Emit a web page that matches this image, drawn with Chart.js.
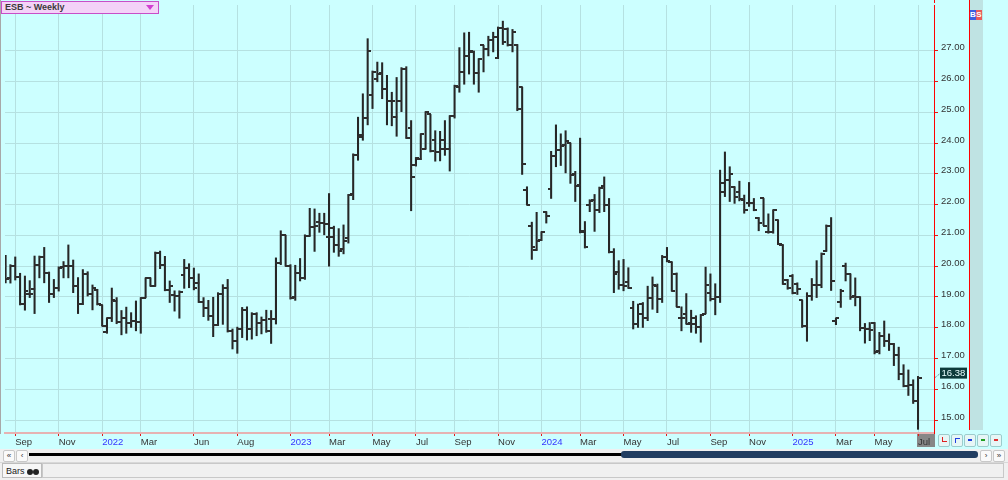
<!DOCTYPE html>
<html>
<head>
<meta charset="utf-8">
<title>ESB ~ Weekly</title>
<script src="https://cdn.jsdelivr.net/npm/chart.js@4.4.1/dist/chart.umd.min.js"></script>
<style>
    body { margin: 0; background: #f0f0f0; font-family: "Liberation Sans", Arial, sans-serif; }
    #wrap { position: relative; width: 1008px; height: 480px; overflow: hidden; background: #f0f0f0; }
    #plot { position: absolute; left: 0; top: 0; width: 1008px; height: 449px; background: #ccffff; }
    #plot canvas { position: absolute; left: 0; top: 0; }
    .abs { position: absolute; }
    #title { left: 1px; top: 1px; width: 153px; height: 11px; background: #f4d2f8; border: 1px solid #c84ec8;
        font-weight: bold; font-size: 9px; line-height: 11px; color: #3a3a3a; padding-left: 3px; box-sizing: content-box; }
    #title .tri { position: absolute; right: 4px; top: 3px; width: 0; height: 0;
        border-left: 4px solid transparent; border-right: 4px solid transparent; border-top: 5px solid #d040d0; }
    #bscol { left: 969px; top: 0; width: 13px; height: 430px; background: #bfe3e3; border-left: 1px solid #ff0000; }
    .bs { top: 10px; width: 6px; height: 10px; font-size: 8px; line-height: 10px; color: #fff; text-align: center; font-weight: bold; }
    .btn { top: 434px; width: 10px; height: 11px; background: #e6f6f6; border: 1px solid #9ccccc; border-radius: 2px; }
    .btn i { position: absolute; left: 3px; top: 4px; width: 4px; height: 2px; }
    #scroll { left: 0; top: 449px; width: 1008px; height: 12px; background: #f0f0f0; }
    .sbtn { top: 450px; width: 10px; height: 10px; background: #fafafa; border: 1px solid #c8c8c8; border-radius: 2px;
        font-size: 8px; line-height: 10px; text-align: center; color: #333; }
    #track { left: 29px; top: 453px; width: 594px; height: 3px; background: #000; }
    #thumb { left: 621px; top: 451px; width: 357px; height: 7px; background: #213d61; border-radius: 3px; }
    #status { left: 0; top: 462px; width: 1008px; height: 18px; background: #f0f0f0; border-top: 1px solid #d8d8d8; }
    #tab { left: 2px; top: 463px; width: 40px; height: 15px; background: #f7f7f7; border: 1px solid #bcbcbc;
        font-size: 9px; line-height: 15px; color: #222; padding-left: 3px; box-sizing: border-box; white-space: nowrap; }
    #tab b { display: inline-block; width: 6px; height: 6px; border-radius: 3px; background: #222; margin-left: 0; vertical-align: -1px; }
    #bar2 { left: 42px; top: 463px; width: 962px; height: 15px; background: #f0f0f0; border: 1px solid #c8c8c8; box-sizing: border-box; }
</style>
</head>
<body>
<div id="wrap">
    <div id="plot"><canvas id="chart" width="1008" height="449"></canvas></div>
    <div class="abs" style="left:0;top:0;width:1px;height:434px;background:#a8a8a8"></div>
    <div class="abs" style="left:934px;top:0;width:1px;height:3px;background:#ff0000"></div>
    <div class="abs" id="title">ESB ~ Weekly<span class="tri"></span></div>
    <div class="abs" id="bscol"></div>
    <div class="abs bs" style="left:970px;background:#3d5ee0">B</div>
    <div class="abs bs" style="left:976px;background:#e85a5a">S</div>

    <div class="abs btn" style="left:938px"><i style="border-left:1px solid #e02020;border-bottom:1px solid #e02020;background:none;top:2px;height:4px"></i></div>
    <div class="abs btn" style="left:951px"><i style="border-left:1px solid #2040e0;border-top:1px solid #2040e0;background:none;top:3px;height:4px"></i></div>
    <div class="abs btn" style="left:964px"><i style="background:#2040e0"></i></div>
    <div class="abs btn" style="left:977px"><i style="background:#20a020"></i></div>
    <div class="abs btn" style="left:990px"><i style="background:#e03030"></i></div>

    <div class="abs" id="scroll"></div>
    <div class="abs sbtn" style="left:3px">&laquo;</div>
    <div class="abs sbtn" style="left:16px">&lsaquo;</div>
    <div class="abs" id="track"></div>
    <div class="abs" id="thumb"></div>
    <div class="abs sbtn" style="left:980px">&rsaquo;</div>
    <div class="abs sbtn" style="left:993px">&raquo;</div>

    <div class="abs" id="status"></div>
    <div class="abs" id="tab">Bars <b></b><b></b></div>
    <div class="abs" id="bar2"></div>
</div>
<script>
// weekly OHLC, one entry per bar (Aug 2021 .. Jul 2025)
const opens = [
    20.0, 19.6, 20.0, 19.65, 18.78, 19.1, 19.27, 20.05, 20.31, 19.79,
    19.09, 19.28, 19.97, 20.0, 20.0, 19.35, 18.76, 19.75, 19.11, 19.22,
    18.74, 17.85, 18.31, 18.87, 18.2, 18.33, 18.15, 18.23, 18.2, 18.98,
    19.6, 19.35, 20.43, 20.05, 19.22, 19.06, 19.03, 19.71, 19.95, 19.62,
    19.46, 18.85, 18.63, 18.39, 18.1, 19.09, 19.28, 17.9, 17.56, 17.96,
    18.57, 17.96, 18.46, 18.14, 18.25, 18.28, 18.28, 20.11, 21.0, 20.0,
    18.99, 19.78, 19.62, 20.97, 21.26, 21.45, 21.4, 20.94, 21.24, 20.68,
    20.57, 20.9, 22.36, 23.6, 24.25, 24.8, 25.55, 26.08, 26.29, 25.76,
    25.38, 24.86, 25.36, 26.42, 24.5, 23.28, 23.48, 23.82, 24.93, 24.09,
    23.72, 24.09, 23.82, 24.87, 25.81, 26.31, 26.83, 26.96, 26.29, 27.17,
    27.06, 27.34, 26.77, 27.74, 27.71, 27.17, 27.17, 25.81, 22.47, 21.29,
    20.54, 20.86, 21.75, 22.5, 23.58, 23.76, 23.95, 24.0, 23.0, 22.65,
    21.13, 21.98, 22.15, 21.83, 22.62, 21.99, 20.46, 19.8, 19.4, 19.5,
    18.63, 18.12, 18.76, 18.33, 18.98, 19.35, 18.92, 20.31, 20.12, 19.76,
    18.33, 18.44, 18.14, 18.31, 18.01, 18.46, 19.14, 18.92, 19.0, 22.42,
    22.8, 22.58, 22.42, 22.15, 22.04, 22.04, 21.58, 22.2, 21.1, 21.1,
    21.5, 20.7, 19.54, 19.67, 19.41, 18.89, 18.06, 19.03, 19.39, 19.39,
    20.48, 21.32, 18.22, 18.85, 20.0, 19.73, 19.03, 19.0, 18.0, 17.95,
    18.17, 17.25, 17.74, 17.56, 17.47, 17.1, 16.5, 16.1, 16.13, 15.62,
]
const highs = [
    20.35, 20.05, 20.3, 19.77, 19.68, 19.53, 20.33, 20.33, 20.61, 19.81,
    19.57, 19.98, 20.15, 20.69, 20.2, 19.63, 19.89, 19.82, 19.39, 19.25,
    18.74, 18.32, 19.29, 18.98, 18.56, 18.67, 18.49, 18.87, 18.98, 19.62,
    19.62, 20.46, 20.49, 20.32, 19.52, 19.2, 19.2, 20.22, 20.08, 19.94,
    19.75, 18.98, 18.89, 18.99, 19.14, 19.4, 19.57, 17.96, 18.02, 18.66,
    18.68, 18.49, 18.49, 18.35, 18.57, 18.56, 20.27, 21.15, 21.0, 20.05,
    20.03, 20.25, 21.02, 21.88, 21.86, 21.72, 21.72, 22.36, 21.3, 21.22,
    21.34, 22.33, 23.65, 24.84, 25.6, 27.39, 26.34, 26.63, 26.61, 26.2,
    25.65, 26.13, 26.45, 26.48, 24.73, 23.53, 24.3, 25.02, 24.93, 24.4,
    24.38, 24.73, 24.89, 25.88, 27.1, 27.58, 27.6, 26.99, 26.74, 27.17,
    27.47, 27.6, 27.77, 27.96, 27.74, 27.69, 27.2, 25.81, 22.58, 21.43,
    21.75, 21.12, 21.77, 23.73, 24.59, 24.3, 24.4, 24.0, 23.08, 24.16,
    21.45, 22.16, 22.33, 22.57, 22.9, 22.2, 20.57, 20.18, 20.22, 19.95,
    18.86, 18.77, 18.82, 19.35, 19.65, 19.42, 20.35, 20.61, 20.14, 19.78,
    18.68, 19.11, 18.57, 18.39, 18.43, 19.97, 19.75, 19.43, 23.12, 23.71,
    23.23, 22.58, 22.76, 22.31, 22.72, 22.2, 21.58, 22.2, 21.7, 21.83,
    21.5, 20.7, 19.57, 19.73, 19.46, 18.89, 19.14, 19.6, 20.18, 20.43,
    21.34, 21.58, 18.31, 19.25, 20.1, 19.75, 19.62, 19.0, 18.14, 18.17,
    18.17, 17.85, 18.22, 17.8, 17.49, 17.37, 16.8, 16.63, 16.31, 16.42,
]
const lows = [
    19.46, 19.45, 19.55, 18.74, 18.57, 18.98, 18.46, 19.62, 19.46, 18.82,
    18.98, 19.19, 19.62, 19.62, 19.14, 18.46, 18.75, 19.03, 18.58, 18.74,
    18.06, 17.82, 18.2, 18.13, 17.77, 17.82, 18.01, 17.9, 17.82, 18.98,
    19.35, 19.35, 19.92, 19.2, 18.82, 18.54, 18.31, 19.28, 19.3, 19.23,
    18.82, 18.36, 18.24, 17.71, 18.07, 18.11, 17.86, 17.31, 17.17, 17.68,
    17.6, 17.63, 17.74, 17.8, 17.85, 17.49, 18.12, 20.05, 20.0, 18.93,
    18.89, 19.52, 19.57, 20.97, 20.48, 21.1, 21.02, 20.0, 20.45, 20.32,
    20.4, 20.75, 22.16, 23.44, 24.09, 24.59, 25.12, 25.99, 25.44, 24.59,
    24.56, 24.22, 25.02, 24.15, 21.8, 23.25, 23.46, 23.8, 23.71, 23.41,
    23.42, 23.6, 23.09, 24.81, 25.65, 25.91, 26.24, 25.91, 25.65, 26.31,
    26.83, 26.96, 26.74, 27.2, 27.15, 26.96, 25.05, 22.98, 21.99, 20.22,
    20.51, 20.83, 21.4, 22.2, 23.23, 23.27, 23.03, 22.69, 22.1, 21.08,
    20.59, 21.77, 21.13, 21.74, 21.77, 20.43, 19.14, 19.25, 19.2, 19.28,
    17.96, 18.01, 18.01, 18.23, 18.6, 18.49, 18.82, 20.14, 19.19, 18.68,
    17.9, 18.12, 17.85, 17.82, 17.53, 18.46, 18.87, 18.42, 18.82, 22.26,
    22.1, 22.04, 22.12, 21.72, 21.94, 21.8, 21.15, 21.32, 21.07, 21.07,
    20.7, 19.41, 19.25, 19.1, 19.08, 18.01, 17.56, 18.89, 18.98, 19.3,
    20.48, 19.21, 18.1, 18.66, 19.52, 18.92, 18.71, 17.9, 17.5, 17.58,
    17.15, 17.15, 17.39, 17.26, 16.77, 16.31, 16.08, 15.8, 15.54, 14.7,
]
const closes = [
    19.59, 20.0, 19.65, 18.76, 19.2, 19.1, 20.05, 20.31, 19.79, 19.09,
    19.28, 19.95, 20.0, 20.0, 19.35, 18.76, 19.75, 19.11, 19.3, 18.76,
    18.07, 18.31, 18.89, 18.2, 18.33, 18.15, 18.23, 18.2, 18.98, 19.6,
    19.35, 20.43, 20.05, 19.22, 19.35, 19.03, 19.17, 19.95, 19.62, 19.3,
    18.85, 18.63, 18.39, 18.1, 19.09, 19.28, 17.9, 17.56, 17.96, 18.57,
    17.96, 18.46, 18.14, 18.25, 17.9, 18.28, 20.11, 21.0, 20.0, 18.98,
    19.78, 19.62, 20.97, 21.26, 21.29, 21.4, 21.37, 20.94, 20.7, 20.48,
    20.81, 22.31, 23.6, 24.2, 24.8, 26.99, 26.31, 26.24, 25.75, 25.38,
    25.38, 25.36, 26.42, 24.16, 22.9, 23.5, 24.28, 25.0, 23.73, 23.7,
    23.8, 23.8, 24.87, 25.84, 26.31, 26.83, 26.99, 26.29, 26.72, 27.06,
    27.34, 27.45, 27.74, 27.28, 27.17, 27.6, 25.09, 23.33, 21.99, 20.61,
    20.83, 21.11, 21.64, 23.58, 23.76, 23.9, 24.05, 22.95, 22.62, 21.11,
    20.61, 22.13, 21.83, 22.53, 21.99, 20.46, 19.75, 19.4, 19.35, 19.3,
    18.12, 18.44, 18.33, 18.98, 19.4, 18.95, 20.31, 20.18, 19.2, 18.69,
    18.33, 18.12, 18.12, 18.01, 18.42, 19.39, 18.92, 19.0, 22.69, 22.8,
    23.01, 22.26, 22.18, 21.83, 22.04, 21.83, 21.4, 21.32, 21.1, 21.82,
    20.71, 19.42, 19.3, 19.14, 19.25, 18.06, 19.03, 19.39, 19.39, 20.41,
    21.32, 19.52, 18.31, 19.19, 19.73, 19.0, 19.0, 18.0, 17.95, 17.92,
    17.2, 17.74, 17.56, 17.47, 17.1, 16.5, 16.1, 16.13, 15.62, 16.38,
]

// bottom axis: bar index where each month / year label sits
const tickIndex = [2, 11, 20, 28, 39, 48, 59, 67, 76, 85, 93, 102, 111, 119, 128, 137, 146, 154, 163, 172, 180, 189]
const tickLabels = ["Sep", "Nov", "2022", "Mar", "Jun", "Aug", "2023", "Mar", "May", "Jul", "Sep", "Nov",
    "2024", "Mar", "May", "Jul", "Sep", "Nov", "2025", "Mar", "May", "Jul"]
const priceTicks = [15, 16, 17, 18, 19, 20, 21, 22, 23, 24, 25, 26, 27]

const lastIdx = closes.length - 1
const gridColor = "#b5e1e1"

Chart.defaults.font.family = "'Liberation Sans', Arial, sans-serif"

// open / close ticks as tiny point images
function tickMark(side) {
    const c = document.createElement("canvas")
    c.width = 7
    c.height = 2
    const g = c.getContext("2d")
    g.fillStyle = "#2e2e2e"
    if (side === "open") g.fillRect(0, 0, 4, 2)
    else g.fillRect(3, 0, 4, 2)
    return c
}

// no label overhang padding, so the plot area stays where the layout puts it
function noPad(s) {
    s.paddingTop = 0
    s.paddingBottom = 0
    s.paddingLeft = 0
    s.paddingRight = 0
}

// grey box under the last month label + last price tag
const decoPlugin = {
    id: "deco",
    beforeDraw(chart) {
        const { ctx, chartArea, scales } = chart
        const x = scales.x.getPixelForValue(lastIdx)
        ctx.save()
        ctx.fillStyle = "#878787"
        ctx.fillRect(Math.round(x) - 1, chartArea.bottom + 1, chartArea.right - Math.round(x) + 2, 13)
        ctx.restore()
    },
    afterDraw(chart) {
        const { ctx, chartArea, scales } = chart
        const y = scales.y.getPixelForValue(closes[lastIdx])
        const bx = chartArea.right + 6
        ctx.save()
        ctx.strokeStyle = "#557777"
        ctx.setLineDash([1, 1])
        ctx.beginPath()
        ctx.moveTo(chartArea.right + 1, y)
        ctx.lineTo(bx, y - 4)
        ctx.stroke()
        ctx.setLineDash([])
        ctx.fillStyle = "#0d3b3b"
        ctx.fillRect(bx, y - 10, 27, 11)
        ctx.fillStyle = "#e8ffff"
        ctx.font = "9.5px 'Liberation Sans', Arial, sans-serif"
        ctx.textBaseline = "middle"
        ctx.fillText(closes[lastIdx].toFixed(2), bx + 1.5, y - 4.5)
        ctx.restore()
    },
}

new Chart(document.getElementById("chart"), {
    type: "bar",
    data: {
        datasets: [
            {
                type: "bar",
                data: highs.map((h, i) => ({ x: i, y: [lows[i], h] })),
                backgroundColor: "#262626",
                barThickness: 1.4,
                grouped: false,
                order: 2,
            },
            {
                type: "scatter",
                data: opens.map((v, i) => ({ x: i, y: v })),
                pointStyle: tickMark("open"),
                pointRadius: 3,
                order: 1,
            },
            {
                type: "scatter",
                data: closes.map((v, i) => ({ x: i, y: v })),
                pointStyle: tickMark("close"),
                pointRadius: 3,
                order: 1,
            },
        ],
    },
    options: {
        responsive: false,
        animation: false,
        events: [],
        layout: { padding: { left: 3, top: 2, right: 34, bottom: 1 } },
        plugins: { legend: { display: false }, tooltip: { enabled: false } },
        scales: {
            x: {
                type: "linear",
                offset: false,
                min: -0.124,
                max: 192.31,
                afterBuildTicks: (s) => {
                    s.ticks = tickIndex.map((v) => ({ value: v }))
                },
                afterFit: (s) => {
                    s.height = 15
                    noPad(s)
                },
                ticks: {
                    autoSkip: false,
                    maxRotation: 0,
                    align: "start",
                    padding: 1,
                    callback: (v) => tickLabels[tickIndex.indexOf(v)],
                    color: (c) => (/^\d{4}$/.test(tickLabels[c.index]) ? "#3434ff" : "#333333"),
                    font: { size: 9.5 },
                },
                grid: { color: gridColor, offset: false, tickColor: "#e01818", tickLength: 3 },
                border: { color: "#e6b2b2", width: 2 },
            },
            y: {
                position: "right",
                min: 14.581,
                max: 28.484,
                afterBuildTicks: (s) => {
                    s.ticks = priceTicks.map((v) => ({ value: v }))
                },
                afterFit: (s) => {
                    s.width = 40
                    noPad(s)
                },
                ticks: {
                    padding: 3,
                    labelOffset: -3,
                    callback: (v) => v.toFixed(2),
                    color: "#333333",
                    font: { size: 9.5 },
                },
                grid: { color: gridColor, tickColor: "#e01818", tickLength: 4 },
                border: { color: "#ff0000", width: 1 },
            },
        },
    },
    plugins: [decoPlugin],
})
</script>
</body>
</html>
